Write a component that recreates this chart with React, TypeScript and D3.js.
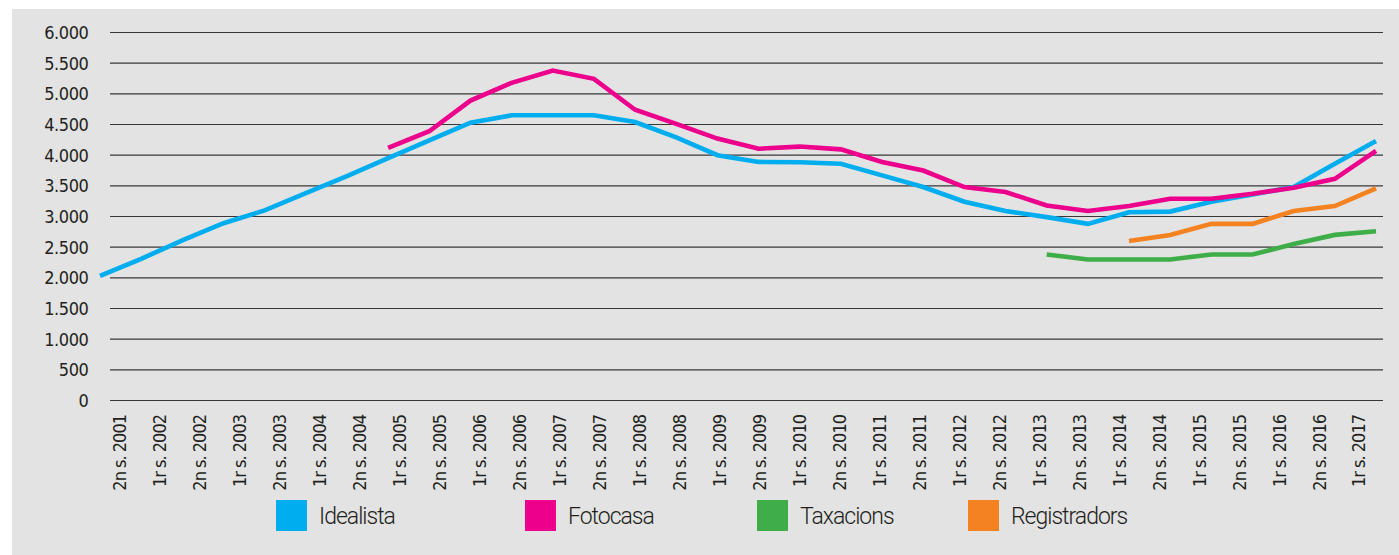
import React, { useEffect, useRef } from 'react';
import * as d3 from 'd3';

const categories = [
  '2n s. 2001', '1r s. 2002', '2n s. 2002', '1r s. 2003', '2n s. 2003', '1r s. 2004',
  '2n s. 2004', '1r s. 2005', '2n s. 2005', '1r s. 2006', '2n s. 2006', '1r s. 2007',
  '2n s. 2007', '1r s. 2008', '2n s. 2008', '1r s. 2009', '2n s. 2009', '1r s. 2010',
  '2n s. 2010', '1r s. 2011', '2n s. 2011', '1r s. 2012', '2n s. 2012', '1r s. 2013',
  '2n s. 2013', '1r s. 2014', '2n s. 2014', '1r s. 2015', '2n s. 2015', '1r s. 2016',
  '2n s. 2016', '1r s. 2017',
];

const idealista = [
  2030, 2310, 2610, 2890, 3100, 3380, 3660, 3950, 4240, 4530,
  4650, 4650, 4650, 4540, 4290, 4000, 3890, 3885, 3860, 3670,
  3480, 3240, 3090, 2990, 2880, 3070, 3080, 3240, 3360, 3480,
  3860, 4230,
];

const fotocasa = [
  null, null, null, null, null, null, null,
  4120, 4390, 4890, 5180, 5380, 5245, 4740, 4510, 4270, 4105, 4140, 4095, 3890,
  3750, 3480, 3400, 3180, 3090, 3170, 3290, 3290, 3370, 3470, 3615, 4070,
];

const taxacions = [
  null, null, null, null, null, null, null, null, null, null,
  null, null, null, null, null, null, null, null, null, null,
  null, null, null,
  2380, 2300, 2300, 2300, 2380, 2380, 2550, 2700, 2760,
];

const registradors = [
  null, null, null, null, null, null, null, null, null, null,
  null, null, null, null, null, null, null, null, null, null,
  null, null, null, null, null,
  2600, 2700, 2880, 2880, 3090, 3170, 3460,
];

const yTicks = [0, 500, 1000, 1500, 2000, 2500, 3000, 3500, 4000, 4500, 5000, 5500, 6000];

const series = [
  { name: 'Idealista', color: '#00aeef', values: idealista },
  { name: 'Fotocasa', color: '#ec008c', values: fotocasa },
  { name: 'Taxacions', color: '#3fae49', values: taxacions },
  { name: 'Registradors', color: '#f58220', values: registradors },
];

// legend slots, left edge of each swatch
const legendX = [276, 525, 757, 968];

const W = 1399;
const H = 555;
const numFont = "'DejaVu Sans', sans-serif";

export default function App() {
  const ref = useRef<SVGSVGElement | null>(null);

  useEffect(() => {
    const svg = d3.select(ref.current);
    svg.selectAll('*').remove();

    svg.append('rect').attr('width', W).attr('height', H).attr('fill', '#ffffff');
    svg.append('rect')
      .attr('x', 12).attr('y', 9)
      .attr('width', W - 12).attr('height', H - 9)
      .attr('fill', '#e2e3e2');

    const x = d3.scalePoint<string>().domain(categories).range([100, 1376]);
    const xLab = d3.scalePoint<string>().domain(categories).range([119.5, 1359]);
    const y = d3.scaleLinear().domain([0, 6000]).range([400.5, 32.5]);

    // grid
    svg.append('g')
      .selectAll('line')
      .data(yTicks)
      .enter()
      .append('line')
      .attr('x1', 110)
      .attr('x2', 1383)
      .attr('y1', (d) => y(d))
      .attr('y2', (d) => y(d))
      .attr('stroke', '#383838')
      .attr('stroke-width', 1.2);

    // y labels
    svg.append('g')
      .selectAll('text')
      .data(yTicks)
      .enter()
      .append('text')
      .attr('x', 88.5)
      .attr('y', (d) => y(d))
      .attr('dy', '0.36em')
      .attr('text-anchor', 'end')
      .attr('font-family', numFont)
      .attr('font-stretch', 'condensed')
      .attr('font-weight', 500)
      .attr('font-size', 18)
      .attr('letter-spacing', -0.4)
      .attr('fill', '#231f20')
      .text((d) => d3.format(',')(d).replace(/,/g, '.'));

    // x labels
    svg.append('g')
      .selectAll('text')
      .data(categories)
      .enter()
      .append('text')
      .attr('transform', (d) => `translate(${xLab(d)},415) rotate(-90)`)
      .attr('dy', '0.36em')
      .attr('text-anchor', 'end')
      .attr('font-family', numFont)
      .attr('font-stretch', 'condensed')
      .attr('font-weight', 500)
      .attr('font-size', 18)
      .attr('letter-spacing', -1)
      .attr('fill', '#231f20')
      .text((d) => d);

    const line = d3.line<number | null>()
      .defined((d) => d != null)
      .x((_, i) => x(categories[i]) as number)
      .y((d) => y(d as number));

    svg.append('g')
      .selectAll('path')
      .data(series)
      .enter()
      .append('path')
      .attr('d', (s) => line(s.values))
      .attr('fill', 'none')
      .attr('stroke', (s) => s.color)
      .attr('stroke-width', 4.6);

    // legend
    const leg = svg.append('g')
      .selectAll('g')
      .data(series)
      .enter()
      .append('g')
      .attr('transform', (_, i) => `translate(${legendX[i]},500)`);

    leg.append('rect')
      .attr('width', 31)
      .attr('height', 31)
      .attr('fill', (s) => s.color);

    leg.append('text')
      .attr('x', 43)
      .attr('y', 16)
      .attr('dy', '0.36em')
      .attr('font-family', "Roboto, 'Noto Sans', sans-serif")
      .attr('font-weight', 300)
      .attr('font-size', 23)
      .attr('letter-spacing', -1)
      .attr('fill', '#231f20')
      .text((s) => s.name);
  }, []);

  return (
    <svg
      ref={ref}
      width={W}
      height={H}
      style={{ position: 'absolute', left: 0, top: 0, display: 'block' }}
    />
  );
}
